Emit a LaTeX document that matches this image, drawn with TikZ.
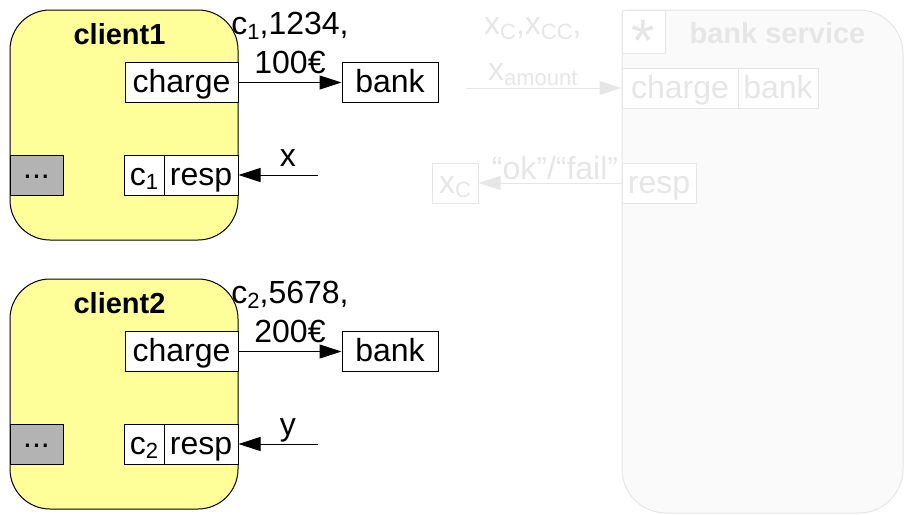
\documentclass[tikz,border=0pt]{standalone}
\usepackage{fontspec}
\setmainfont{Liberation Sans}
\usetikzlibrary{arrows.meta}

\definecolor{clientfill}{HTML}{FFFF99}
\definecolor{dotsfill}{HTML}{B3B3B3}
\definecolor{faint}{HTML}{E6E6E6}
\definecolor{faintfill}{HTML}{FAFAFA}

\newcommand\lo[1]{\raisebox{-2.2pt}{\fontsize{11}{11}\selectfont #1}}

\begin{document}
\begin{tikzpicture}[x=0.5pt, y=-0.5pt, line width=0.5pt,
  every node/.style={font=\fontsize{16}{19.5}\selectfont, inner sep=0pt},
  title/.style={font=\fontsize{14.5}{17}\selectfont\bfseries},
  port/.style={draw, fill=white, minimum height=20pt, text height=11pt, text depth=1pt},
  msg/.style={-{Triangle[length=11pt, width=7pt]}},
  ghost/.style={draw=faint, text=faint}]
  \useasboundingbox (0,0) rectangle (904,514);
  \foreach \i/\dy/\num/\amt/\ret in {1/0/1234/100/x, 2/269/5678/200/y} {
    \node[draw, fill=clientfill, rounded corners=20pt, minimum width=114pt, minimum height=115pt] (client\i) at (124,125+\dy) {};
    \node[title] (name\i) at (119.5,34+\dy) {client\i};
    \node[port, minimum width=56.5pt] (charge\i) at (181.5,82.5+\dy) {charge};
    \node[port, minimum width=48pt] (bank\i) at (390,82.5+\dy) {bank};
    \node[port, fill=dotsfill, minimum width=26.5pt, text height=3pt, text depth=0pt] (more\i) at (36.5,175+\dy) {...};
    \node[port, minimum width=20pt] (cid\i) at (144,175+\dy) {c\lo{\i}};
    \node[port, minimum width=37pt] (resp\i) at (201,175+\dy) {resp};
    \coordinate (back\i) at (318,175+\dy);
    \draw[msg] (charge\i) -- node[midway, above=4pt, align=center] (data\i) {c\lo{\i},\num,\\{\amt}€} (bank\i);
    \draw[msg] (back\i) -- node[pos=0.38, anchor=base, yshift=4.5pt] (ret\i) {\ret} (resp\i);
  }
  % greyed-out bank service on the right
  \begin{scope}
    \clip (0,0) rectangle (904,514);
    \draw[faint, fill=faintfill] (760,10) [rounded corners=22pt] -- (903,10) -- (903,513) -- (622,513) -- (622,260) [rounded corners=2.5pt] -- (622,10) -- cycle;
  \end{scope}
  \node[ghost, fill=white, minimum width=21.5pt, minimum height=21.5pt, font=\fontsize{30}{30}\selectfont] (star) at (643.5,31.5) {\raisebox{-14.75pt}[0pt][0pt]{*}};
  \node[title, text=faint] (service) at (777.5,33) {bank service};
  \node[port, ghost, minimum width=58pt] (svccharge) at (680,88) {charge};
  \node[port, ghost, minimum width=40pt] (svcbank) at (778,88) {bank};
  \node[port, ghost, minimum width=37pt] (svcresp) at (659,183) {resp};
  \node[port, ghost, minimum width=23pt] (xc) at (455,183) {x\lo{C}};
  \coordinate (svcin) at (466,88);
  \draw[msg, faint] (svcin) -- node[pos=0.43, above=1pt, align=center, text=faint] (params) {x\lo{C},x\lo{CC},\\[3.5pt]x\lo{amount}} (svccharge);
  \draw[msg, faint] (svcresp) -- node[pos=0.465, anchor=base, yshift=2pt, text=faint] (reply) {“ok”/“fail”} (xc);
\end{tikzpicture}
\end{document}
